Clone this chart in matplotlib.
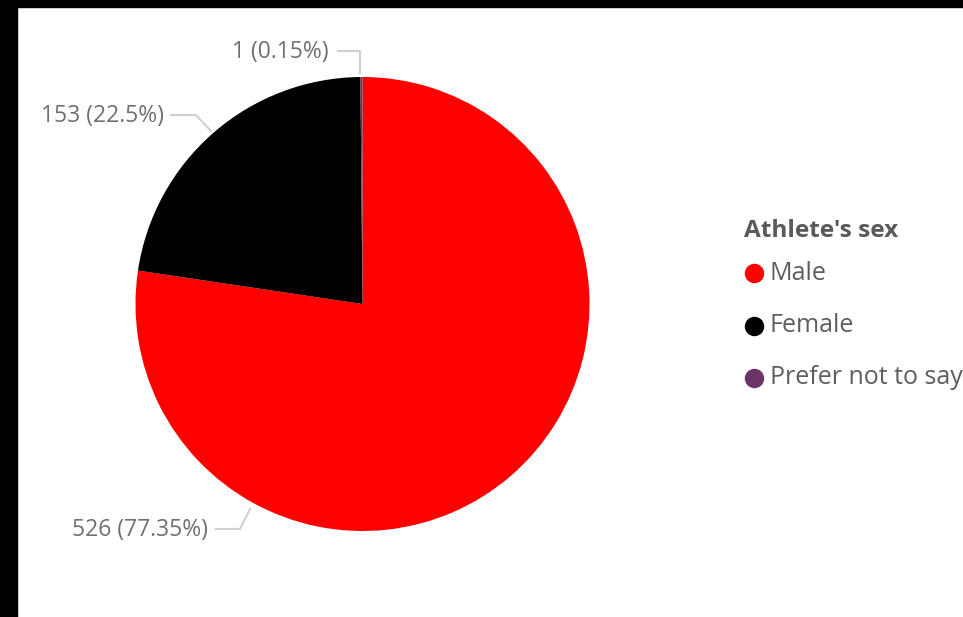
import matplotlib
matplotlib.use('Agg')
import matplotlib.pyplot as plt
from matplotlib.patches import Rectangle
from matplotlib.lines import Line2D

categories = ["Male", "Female", "Prefer not to say"]
counts = [526, 153, 1]
colors = ["#FF0000", "#000000", "#6B3466"]
legend_title = "Athlete's sex"

W, H = 963, 617
plt.rcParams['font.family'] = ['Open Sans', 'DejaVu Sans']

fig = plt.figure(figsize=(W / 100, H / 100), dpi=100)
ax = fig.add_axes([0, 0, 1, 1])

def py(y):
    # pixel row -> data y
    return H - y

# black frame strips of the screenshot
fig.patches.append(Rectangle((0, 1 - 7 / H), 1, 7 / H, transform=fig.transFigure, color='black'))
fig.patches.append(Rectangle((0, 0), 17 / W, 1, transform=fig.transFigure, color='black'))

ax.pie(counts, colors=colors, startangle=90, counterclock=False,
       center=(362.5, py(304)), radius=227, frame=True,
       wedgeprops=dict(linewidth=0))
ax.set_xlim(0, W)
ax.set_ylim(0, H)
ax.set_aspect('equal')
ax.axis('off')

total = sum(counts)
def fmt(v):
    p = round(v / total * 100, 2)
    s = ('%.2f' % p).rstrip('0').rstrip('.')
    return '%d (%s%%)' % (v, s)

# label anchor (text right edge) and leader line paths, in pixels
label_pos = [(208, 530), (164, 116), (329, 52)]
leaders = [[(216, 529), (240, 529), (250, 509)],
           [(171, 115), (196, 115), (211, 131)],
           [(338, 51), (360, 51), (360, 73)]]
for v, (x, y), path in zip(counts, label_pos, leaders):
    ax.text(x, py(y), fmt(v), ha='right', va='center', fontsize=16.5, color='#707070')
    ax.add_line(Line2D([p[0] for p in path], [py(p[1]) for p in path],
                       color='#CFCFCF', linewidth=1.5))

# legend
ax.text(744, py(231), legend_title, ha='left', va='center', fontsize=17.6,
        fontweight='bold', color='#5A5A5A')
for i, (c, col) in enumerate(zip(categories, colors)):
    y = 273 + i * 52.5
    ax.plot(754, py(y), 'o', color=col, markersize=14, markeredgewidth=0)
    ax.text(770, py(y), c, ha='left', va='center', fontsize=18, color='#605E5C')

fig.savefig('out.png', dpi=100, facecolor='white')
